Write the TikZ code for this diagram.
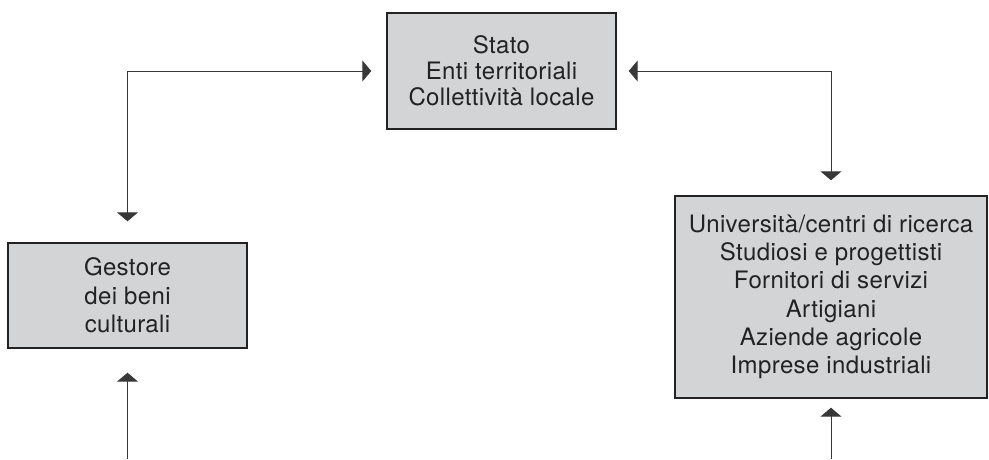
\documentclass[tikz,border=0pt]{standalone}
\usepackage{fontspec}
\setmainfont{TeX Gyre Heros}[LetterSpace=1.5]
\usetikzlibrary{arrows.meta}
\definecolor{boxfill}{HTML}{D3D4D6}
\definecolor{ink}{HTML}{222222}
\begin{document}
\begin{tikzpicture}[x=1pt,y=-1pt,
  actor/.style={draw=ink,line width=1.4pt,fill=boxfill,text=ink,align=center,
    inner sep=0pt,font=\fontsize{24}{28.3}\selectfont},
  link/.style={draw=ink!90,line width=1pt,
    arrows={-Triangle[width=21pt,length=9pt]}},
  biglink/.style={draw=ink!90,line width=1pt,
    arrows={Triangle[width=21pt,length=9pt]-Triangle[width=21pt,length=9pt]}}]
\useasboundingbox (0,0) rectangle (989,459);

% institutional actors
\node[actor,minimum width=229pt,minimum height=116pt,
  font=\fontsize{24}{26}\selectfont] (stato) at (501.5,71)
  {Stato\\Enti territoriali\\Collettività locale};
\node[actor,minimum width=239pt,minimum height=105pt] (gestore) at (127.5,295.5)
  {Gestore\\dei beni\\culturali};
\node[actor,minimum width=312pt,minimum height=202pt] (imprese) at (831,297)
  {Università/centri di ricerca\\Studiosi e progettisti\\Fornitori di servizi\\%
   Artigiani\\Aziende agricole\\Imprese industriali};

% free ends of the incoming lines at the bottom edge
\coordinate (inG) at (gestore.south |- 0,459);
\coordinate (inI) at (imprese.south |- 0,459);

% two-way relations with the public actors
\draw[biglink,shorten <=15pt,shorten >=21pt] (stato.west) -| (gestore.north);
\draw[biglink,shorten <=12pt,shorten >=15pt] (stato.east) -| (imprese.north);

% incoming lines from below
\draw[link,shorten >=24pt] (inG) -- (gestore.south);
\draw[link,shorten >=9pt] (inI) -- (imprese.south);
\end{tikzpicture}
\end{document}
